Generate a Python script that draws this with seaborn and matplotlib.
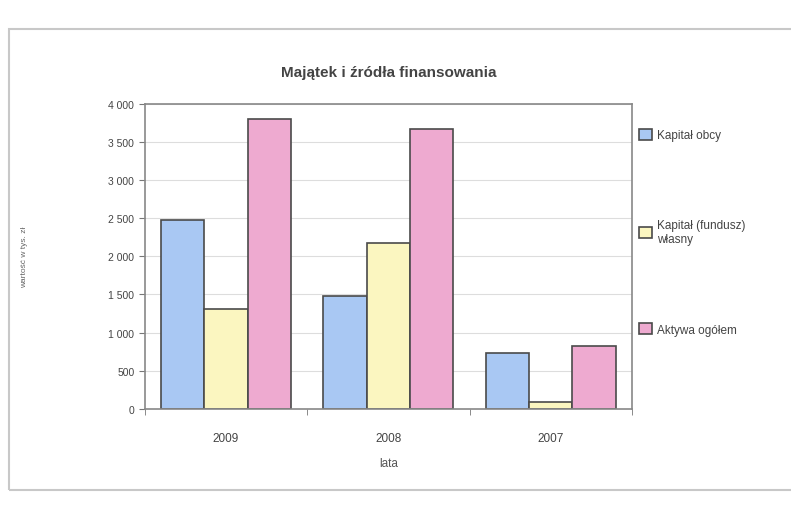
import matplotlib
matplotlib.use("Agg")
import matplotlib.pyplot as plt
import seaborn as sns
import pandas as pd
from matplotlib.patches import Rectangle, Patch
from matplotlib.ticker import FuncFormatter

years = ["2009", "2008", "2007"]
series = ["Kapitał obcy", "Kapitał (fundusz)\nwłasny", "Aktywa ogółem"]
kapital_obcy = [2470, 1480, 730]
kapital_wlasny = [1305, 2170, 90]
aktywa_ogolem = [3805, 3675, 820]
colors = ["#a9c8f3", "#fbf6c0", "#eeaad0"]

df = pd.DataFrame({
    "rok": years * 3,
    "seria": [series[0]] * 3 + [series[1]] * 3 + [series[2]] * 3,
    "wartosc": kapital_obcy + kapital_wlasny + aktywa_ogolem,
})

sns.set_style("white")
plt.rcParams["font.family"] = ["Liberation Sans", "DejaVu Sans"]

fig = plt.figure(figsize=(7.91, 5.06), dpi=100)
fig.patches.append(Rectangle((0.012, 0.03), 1.0, 0.91, transform=fig.transFigure,
                             fill=False, edgecolor="#c8c8c8", linewidth=1.5))
ax = fig.add_axes([0.183, 0.19, 0.616, 0.603])

sns.barplot(data=df, x="rok", y="wartosc", hue="seria", order=years, hue_order=series,
            palette=colors, edgecolor="#4a4a4a", linewidth=1.2, saturation=1,
            width=0.8, ax=ax, legend=False)

ax.set_ylim(0, 4000)
ax.set_xlim(-0.5, 2.5)
ax.set_yticks(range(0, 4001, 500))
ax.yaxis.set_major_formatter(FuncFormatter(lambda v, p: f"{int(v):,}".replace(",", " ")))
ax.grid(axis="y", color="#dddddd", linewidth=0.8)
ax.set_axisbelow(True)
for s in ax.spines.values():
    s.set_color("#888888")
    s.set_linewidth(1.2)
ax.tick_params(axis="y", length=4, color="#777777", labelsize=7.5, labelcolor="#444444", left=True)
ax.tick_params(axis="x", length=0, labelsize=8.5, labelcolor="#444444", pad=17)
ax.set_xticks([-0.5, 0.5, 1.5, 2.5], minor=True)
ax.tick_params(axis="x", which="minor", length=4, color="#777777", bottom=True)

ax.set_xlabel("lata", fontsize=8.5, color="#555555", labelpad=9)
ax.set_ylabel("wartość w tys. zł", fontsize=6, color="#666666", labelpad=0)
ax.yaxis.set_label_coords(-0.24, 0.5)
ax.set_title("Majątek i źródła finansowania", fontsize=11, fontweight="bold",
             color="#444444", pad=20)

handles = [Patch(facecolor=c, edgecolor="#4a4a4a", linewidth=1.2) for c in colors]
leg = fig.legend(handles, series, loc="upper left", bbox_to_anchor=(0.795, 0.765),
                 frameon=False, fontsize=8.5, labelspacing=6.6, handlelength=1.1,
                 handleheight=1.1, handletextpad=0.4, labelcolor="#444444")

fig.savefig("out.png", dpi=100, facecolor="white")
